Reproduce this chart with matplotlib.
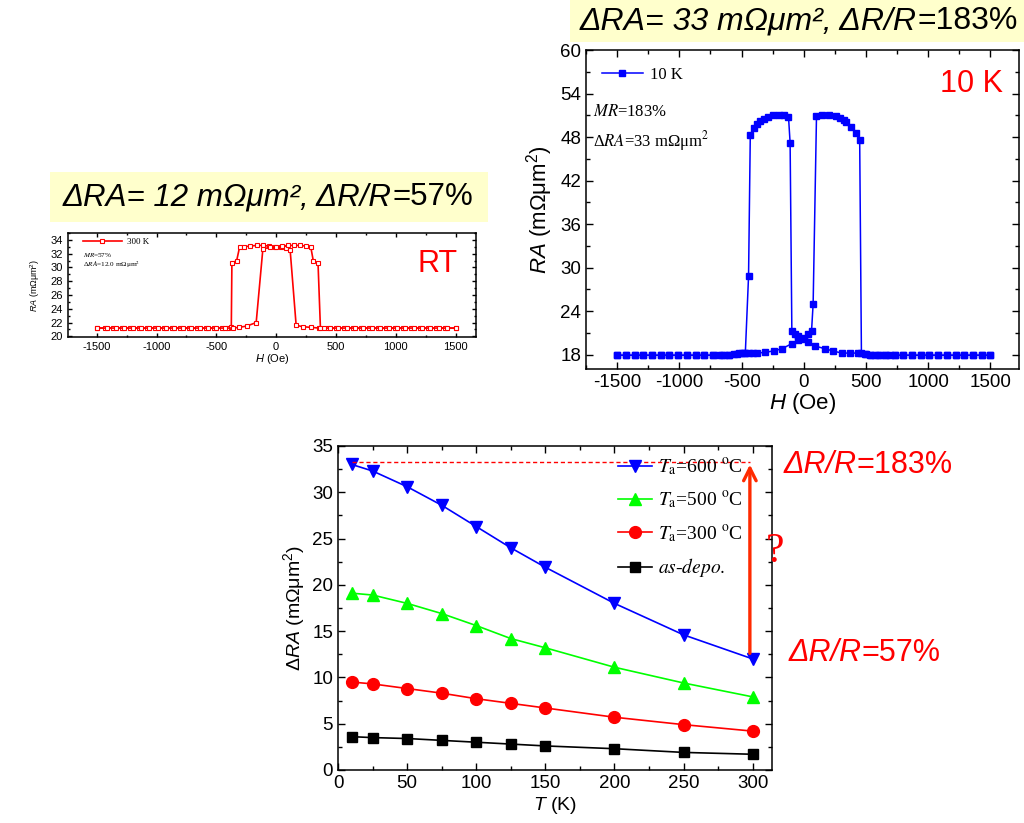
import numpy as np
import matplotlib
matplotlib.use('Agg')
import matplotlib.pyplot as plt
from matplotlib.patches import Rectangle
from matplotlib.ticker import MultipleLocator
from matplotlib.font_manager import FontProperties
from matplotlib.offsetbox import TextArea, HPacker, AnnotationBbox

plt.rcParams['font.family'] = ['Liberation Sans', 'DejaVu Sans']
plt.rcParams['mathtext.fontset'] = 'custom'
plt.rcParams['mathtext.rm'] = 'Liberation Sans'
plt.rcParams['mathtext.it'] = 'Liberation Sans:italic'
plt.rcParams['axes.unicode_minus'] = False

# ---- 300 K loop (RT) ----
H_rt_up = [-1500, -1430, -1360, -1290, -1220, -1150, -1080, -1010, -940, -870, -800, -730, -660, -590, -520, -450,
           -400, -375, -370, -330, -305, -270, -220, -160, -110, -60, -10, 40, 80, 117, 167, 222, 290, 360,
           430, 500, 570, 640, 710, 780, 850, 920, 990, 1060, 1130, 1200, 1270, 1340, 1410, 1500]
RA_rt_up = [21.2, 21.2, 21.2, 21.2, 21.2, 21.2, 21.2, 21.2, 21.2, 21.2, 21.2, 21.2, 21.2, 21.2, 21.2, 21.2,
            21.2, 21.3, 30.6, 31.0, 33.0, 33.0, 33.1, 33.2, 33.2, 33.1, 33.0, 32.9, 32.8, 32.5, 21.6, 21.4, 21.3, 21.2,
            21.2, 21.2, 21.2, 21.2, 21.2, 21.2, 21.2, 21.2, 21.2, 21.2, 21.2, 21.2, 21.2, 21.2, 21.2, 21.2]
H_rt_dn = [1500, 1430, 1360, 1290, 1220, 1150, 1080, 1010, 940, 870, 800, 730, 660, 590, 520, 450,
           400, 370, 350, 310, 290, 250, 200, 150, 100, 50, 0, -50, -111, -167, -244, -310, -360,
           -430, -500, -570, -640, -710, -780, -850, -920, -990, -1060, -1130, -1200, -1270, -1340, -1410, -1500]
RA_rt_dn = [21.2, 21.2, 21.2, 21.2, 21.2, 21.2, 21.2, 21.2, 21.2, 21.2, 21.2, 21.2, 21.2, 21.2, 21.2, 21.2,
            21.2, 21.2, 30.6, 31.0, 32.9, 33.1, 33.2, 33.2, 33.2, 33.1, 33.0, 32.9, 32.7, 22.0, 21.5, 21.3, 21.2,
            21.2, 21.2, 21.2, 21.2, 21.2, 21.2, 21.2, 21.2, 21.2, 21.2, 21.2, 21.2, 21.2, 21.2, 21.2, 21.2]

# ---- 10 K loop ----
H_lt_up = [-1500, -1430, -1360, -1290, -1220, -1150, -1080, -1010, -940, -870, -800, -730,
           -680, -640, -600, -564, -524, -484, -444, -410, -377, -310, -243, -176, -96, -43, 0, 32, 62, 75,
           102, 150, 200, 262, 289, 320, 342, 382, 422, 449, 463, 500, 530, 570,
           610, 650, 690, 730, 800, 870, 940, 1010, 1080, 1150, 1220, 1290, 1360, 1430, 1500]
RA_lt_up = [17.9, 17.9, 17.9, 17.9, 17.9, 17.9, 17.9, 17.9, 17.9, 17.9, 17.9, 17.9,
            17.9, 18.0, 18.0, 18.1, 18.2, 18.2, 18.2, 18.2, 18.2, 18.3, 18.5, 18.8, 19.5, 20.0, 20.3, 20.8, 21.2, 25.0,
            50.9, 51.0, 51.0, 50.9, 50.6, 50.4, 50.1, 49.4, 48.5, 47.6, 18.2, 18.1, 18.0, 17.9,
            17.9, 17.9, 17.9, 17.9, 17.9, 17.9, 17.9, 17.9, 17.9, 17.9, 17.9, 17.9, 17.9, 17.9, 17.9]
H_lt_dn = [1500, 1430, 1360, 1290, 1220, 1150, 1080, 1010, 940, 870, 800, 730,
           660, 600, 540, 490, 433, 370, 305, 233, 168, 88, 32, 0, -43, -70, -96,
           -110, -123, -160, -200, -250, -290, -320, -350, -380, -404, -430, -444, -470, -500, -540, -600, -660,
           -730, -800, -870, -940, -1010, -1080, -1150, -1220, -1290, -1360, -1430, -1500]
RA_lt_dn = [17.9, 17.9, 17.9, 17.9, 17.9, 17.9, 17.9, 17.9, 17.9, 17.9, 17.9, 17.9,
            17.9, 17.9, 18.0, 18.1, 18.2, 18.2, 18.2, 18.5, 18.8, 19.2, 19.7, 20.2, 20.6, 20.9, 21.2,
            47.2, 50.8, 51.0, 51.0, 51.0, 50.8, 50.5, 50.2, 49.8, 49.3, 48.3, 28.8, 18.2, 18.2, 18.1, 18.0, 17.9,
            17.9, 17.9, 17.9, 17.9, 17.9, 17.9, 17.9, 17.9, 17.9, 17.9, 17.9, 17.9]

# ---- delta RA vs T ----
T = [10, 25, 50, 75, 100, 125, 150, 200, 250, 300]
dRA_600 = [33.0, 32.3, 30.6, 28.6, 26.3, 24.0, 21.9, 18.0, 14.6, 12.0]
dRA_500 = [19.1, 18.9, 18.0, 16.9, 15.6, 14.2, 13.2, 11.1, 9.4, 7.9]
dRA_300 = [9.5, 9.3, 8.8, 8.3, 7.7, 7.2, 6.7, 5.7, 4.9, 4.2]
dRA_dep = [3.6, 3.5, 3.4, 3.2, 3.0, 2.8, 2.6, 2.3, 1.9, 1.7]
dRA_max = 33.3
dRA_min = 12.0

serif = 'Liberation Serif'
yellow = '#FFFFCC'


def style(ax, size, maj, mino):
    ax.tick_params(which='both', direction='in', top=True, right=True, labelsize=size)
    ax.tick_params(which='major', length=maj, width=1)
    ax.tick_params(which='minor', length=mino, width=1)
    for s in ax.spines.values():
        s.set_linewidth(1.1)


def mixed(fig, x, y, parts, size, color='black', z=6):
    boxes = [TextArea(s, textprops=dict(fontsize=size, color=color, style=st, family='Liberation Sans'))
             for s, st in parts]
    pack = HPacker(children=boxes, sep=0, pad=0, align='baseline')
    ab = AnnotationBbox(pack, (x, y), xycoords='figure fraction', frameon=False,
                        box_alignment=(0.5, 0.5), pad=0)
    ab.set_zorder(z)
    fig.add_artist(ab)


fig = plt.figure(figsize=(10.24, 8.23), dpi=100)

# small RT panel
ax1 = fig.add_axes([0.0664, 0.5905, 0.3984, 0.1264])
ax1.plot(H_rt_up, RA_rt_up, '-s', color='red', lw=1.2, ms=3.2, mfc='white', mew=0.8, label='300 K')
ax1.plot(H_rt_dn, RA_rt_dn, '-s', color='red', lw=1.2, ms=3.2, mfc='white', mew=0.8)
ax1.set_xlim(-1740, 1670)
ax1.set_ylim(19.9, 35)
ax1.xaxis.set_major_locator(MultipleLocator(500))
ax1.xaxis.set_minor_locator(MultipleLocator(250))
ax1.yaxis.set_major_locator(MultipleLocator(2))
ax1.yaxis.set_minor_locator(MultipleLocator(1))
style(ax1, 8, 3, 1.5)
ax1.set_xlabel('$H$ (Oe)', fontsize=8, labelpad=0)
ax1.set_ylabel('$RA$ (mΩμm$^2$)', fontsize=6.5, labelpad=6)
ax1.legend(loc='center left', bbox_to_anchor=(0.037, 0.913), frameon=False, borderpad=0,
           borderaxespad=0, handlelength=4.3, handletextpad=0.6,
           prop=FontProperties(family=serif, size=6.5))
ax1.text(0.037, 0.79, '$MR$=57%', transform=ax1.transAxes, fontsize=5.2, family=serif,
         math_fontfamily='stix', va='center')
ax1.text(0.037, 0.695, 'Δ$RA$=12.0 mΩμm$^2$', transform=ax1.transAxes, fontsize=5.2, family=serif,
         math_fontfamily='stix', va='center')
ax1.text(0.905, 0.70, 'RT', transform=ax1.transAxes, fontsize=22, color='red', ha='center', va='center')

# 10 K panel
ax2 = fig.add_axes([0.5723, 0.5516, 0.4229, 0.3876])
ax2.plot(H_lt_up, RA_lt_up, '-s', color='#0000FF', lw=1.1, ms=5, label='10 K')
ax2.plot(H_lt_dn, RA_lt_dn, '-s', color='#0000FF', lw=1.1, ms=5)
ax2.set_xlim(-1750, 1730)
ax2.set_ylim(16, 60)
ax2.xaxis.set_major_locator(MultipleLocator(500))
ax2.xaxis.set_minor_locator(MultipleLocator(250))
ax2.yaxis.set_major_locator(MultipleLocator(6))
ax2.yaxis.set_minor_locator(MultipleLocator(3))
style(ax2, 13.5, 5, 3)
ax2.set_xlabel('$H$ (Oe)', fontsize=16, labelpad=0)
ax2.set_ylabel('$RA$ (mΩμm$^2$)', fontsize=16, labelpad=4)
ax2.legend(loc='center left', bbox_to_anchor=(0.037, 0.922), frameon=False, borderpad=0,
           borderaxespad=0, handlelength=2.45, handletextpad=0.4,
           prop=FontProperties(family=serif, size=12))
ax2.text(0.017, 0.805, '$MR$=183%', transform=ax2.transAxes, fontsize=12, family=serif,
         math_fontfamily='stix', va='center')
ax2.text(0.017, 0.715, 'Δ$RA$=33 mΩμm$^2$', transform=ax2.transAxes, fontsize=12, family=serif,
         math_fontfamily='stix', va='center')
ax2.text(0.89, 0.895, '10 K', transform=ax2.transAxes, fontsize=22, color='red', ha='center', va='center')

# delta RA vs T
ax3 = fig.add_axes([0.3301, 0.0644, 0.4238, 0.3937])
l4, = ax3.plot(T, dRA_dep, '-s', color='black', lw=1.2, ms=7.5)
l3, = ax3.plot(T, dRA_300, '-o', color='#FF0000', lw=1.2, ms=8.5)
l2, = ax3.plot(T, dRA_500, '-^', color='#00FF00', lw=1.2, ms=9)
l1, = ax3.plot(T, dRA_600, '-v', color='#0000FF', lw=1.2, ms=9)
ax3.plot([T[0], 298], [dRA_max, dRA_max], '--', color='red', lw=1, dashes=(3, 2))
ax3.annotate('', xy=(298, dRA_max), xytext=(298, dRA_min + 0.3),
             arrowprops=dict(arrowstyle='->,head_width=0.45,head_length=0.9', color='#FF2A00', lw=2.4),
             annotation_clip=False)
ax3.set_xlim(0, 314)
ax3.set_ylim(0, 35)
ax3.xaxis.set_major_locator(MultipleLocator(50))
ax3.xaxis.set_minor_locator(MultipleLocator(25))
ax3.yaxis.set_major_locator(MultipleLocator(5))
ax3.yaxis.set_minor_locator(MultipleLocator(2.5))
style(ax3, 13.5, 5, 3)
ax3.set_xlabel('$T$ (K)', fontsize=14, labelpad=2)
ax3.set_ylabel('Δ$RA$ (mΩμm$^2$)', fontsize=14, labelpad=4)
ax3.legend([l1, l2, l3, l4],
           ['$T_{\\rm a}$=600 $^{\\rm o}$C', '$T_{\\rm a}$=500 $^{\\rm o}$C', '$T_{\\rm a}$=300 $^{\\rm o}$C',
            '$\\mathit{as}$-$\\mathit{depo.}$'],
           loc='center left', bbox_to_anchor=(0.645, 0.778), frameon=False, borderpad=0,
           borderaxespad=0, handlelength=1.75, handletextpad=0.3, labelspacing=0.6,
           prop=FontProperties(family=serif, size=14, math_fontfamily='stix'))

# yellow headline boxes
fig.add_artist(Rectangle((0.0488, 0.7303), 0.4277, 0.0608, transform=fig.transFigure,
                         facecolor=yellow, edgecolor='none', zorder=5))
fig.add_artist(Rectangle((0.5566, 0.949), 0.4434, 0.051, transform=fig.transFigure,
                         facecolor=yellow, edgecolor='none', zorder=5))
mixed(fig, 0.2617, 0.7606, [('ΔRA= 12 mΩμm², ΔR/R', 'italic'), ('=57%', 'normal')], 22.5)
mixed(fig, 0.780, 0.974, [('ΔRA= 33 mΩμm², ΔR/R', 'italic'), ('=183%', 'normal')], 23)

# annotations next to the bottom panel
mixed(fig, 0.848, 0.435, [('ΔR/R', 'italic'), ('=183%', 'normal')], 22, color='#FF0000')
mixed(fig, 0.844, 0.2066, [('ΔR/R', 'italic'), ('=57%', 'normal')], 22, color='#FF0000')
fig.text(0.757, 0.329, '?', fontsize=30, family=serif, color='#FF0000', ha='center', va='center', zorder=6)

fig.savefig('out.png', dpi=100)
